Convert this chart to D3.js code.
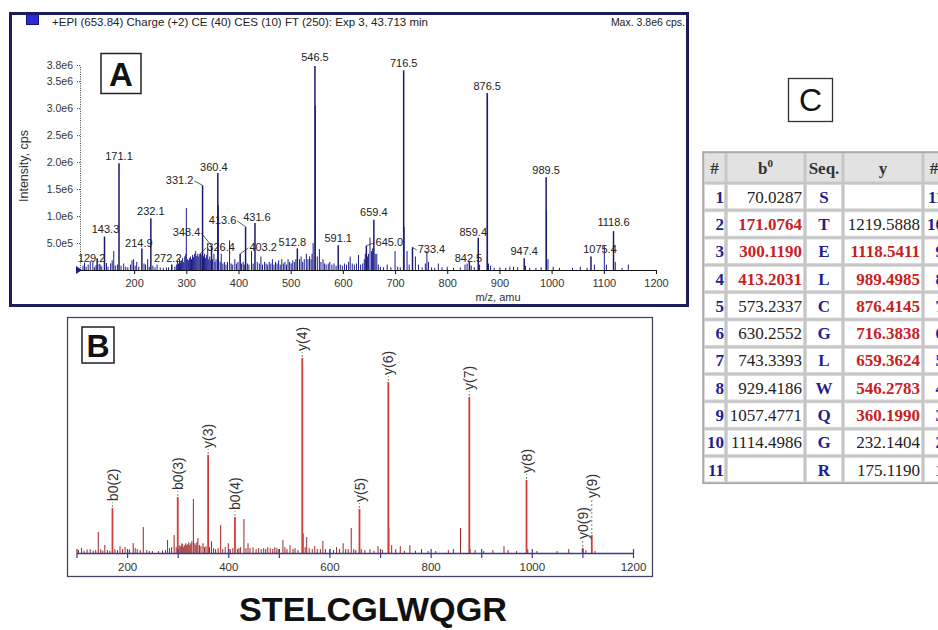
<!DOCTYPE html>
<html>
<head>
<meta charset="utf-8">
<script src="https://cdn.jsdelivr.net/npm/d3@7"></script>
<style>
  body { margin: 0; background: #fff; }
  svg { display: block; }
</style>
</head>
<body>
<svg id="fig" width="938" height="630"></svg>
<script>
// ---------- Panel A: MS/MS spectrum (intensity in 1e6 cps) ----------
const peakLabelsA = ["129.2","143.3","171.1","214.9","232.1","272.2","326.4","331.2","348.4","360.4",
  "403.2","413.6","431.6","512.8","546.5","591.1","645.0","659.4","716.5","733.4",
  "842.5","859.4","876.5","947.4","989.5","1075.4","1118.6"];
const peakIntA = [0.22,0.62,1.98,0.40,0.96,0.10,0.30,1.57,0.45,1.80,
  0.30,0.80,0.87,0.40,3.78,0.46,0.45,0.93,3.70,0.42,
  0.15,0.60,3.28,0.22,1.72,0.25,0.72];
// unlabelled sticks: [m/z, intensity 1e6 cps]
const minorPeaksA = [
  [102,0.08],[105,0.14],[108,0.06],[112,0.10],[116,0.16],[121,0.15],[124,0.05],[127,0.09],[133,0.11],[135,0.10],
  [138,0.07],[147,0.13],[150,0.06],[155,0.12],[158,0.18],[161,0.35],[164,0.08],[168,0.10],[175,0.08],[180,0.12],
  [184,0.06],[188,0.05],[193,0.10],[196,0.18],[199,0.20],[202,0.08],[205,0.15],[209,0.06],[219,0.12],[222,0.10],
  [226,0.20],[229,0.06],[236,0.08],[240,0.05],[244,0.10],[250,0.05],[256,0.04],[262,0.05],[266,0.05],[278,0.06],
  [281,0.10],[283,0.15],[285,0.12],[287,0.20],[289,0.14],[291,0.18],[293,0.22],[295,0.15],[297,0.25],[299,0.30],
  [300.1,1.15],[302,0.20],[304,0.18],[306,0.22],[308,0.25],[310,0.20],[312,0.28],[314,0.24],[316,0.30],[318,0.35],
  [320,0.26],[322,0.30],[324,0.25],[328,0.30],[330,0.28],[333,0.25],[335,0.30],[337,0.22],[339,0.28],[341,0.50],
  [343,0.20],[345,0.25],[347,0.18],[350,0.20],[353,0.30],[355,0.15],[357,0.20],[361.3,1.2],[362,0.18],[365,0.15],
  [367,0.30],[370,0.12],[373,0.15],[376,0.10],[379,0.15],[383,0.55],[386,0.12],[389,0.10],[393,0.20],[396,0.12],
  [399,0.15],[406,0.12],[409,0.15],[411,0.10],[417,0.12],[420,0.10],[425,0.35],[428,0.12],[436,0.15],[440,0.12],
  [443,0.25],[446,0.10],[450,0.15],[453,0.12],[456,0.10],[459,0.15],[462,0.12],[465,0.20],[468,0.10],[471,0.15],
  [474,0.12],[477,0.18],[480,0.10],[483,0.20],[486,0.12],[489,0.15],[492,0.10],[495,0.20],[498,0.15],[501,0.12],
  [504,0.18],[507,0.15],[510,0.20],[517,0.20],[520,0.25],[523,0.15],[526,0.20],[530,0.30],[533,0.20],[536,0.25],
  [539,0.20],[541,0.30],[543,0.50],[547.3,3.05],[551,0.25],[555,0.39],[558,0.15],[562,0.20],[565,0.12],[568,0.10],
  [572,0.12],[575,0.15],[579,0.10],[583,0.12],[587,0.08],[595,0.10],[599,0.08],[603,0.12],[607,0.10],[611,0.15],
  [614,0.25],[618,0.12],[622,0.10],[626,0.12],[630,0.28],[634,0.10],[638,0.12],[641,0.20],[643,0.30],[647,0.25],
  [649,0.30],[652,0.60],[655,0.35],[657,0.40],[662,0.30],[665,0.30],[668,0.10],[672,0.06],[678,0.05],[685,0.10],
  [692,0.05],[700,0.35],[705,0.06],[710,0.05],[717.3,0.80],[723,0.35],[727,0.10],[739,0.25],[745,0.10],[752,0.05],
  [758,0.12],[761,0.35],[764,0.15],[770,0.05],[776,0.04],[783,0.12],[790,0.05],[800,0.06],[812,0.04],[825,0.05],
  [834,0.10],[838,0.12],[846,0.08],[852,0.05],[862,0.10],[877.3,3.20],[879,0.12],[883,0.08],[890,0.04],[901,0.05],
  [912,0.04],[920,0.06],[927,0.06],[935,0.05],[950,0.08],[958,0.04],[970,0.04],[980,0.05],[990.3,1.10],[993,0.20],
  [1003,0.06],[1015,0.04],[1040,0.04],[1055,0.06],[1068,0.04],[1082,0.10],[1101,0.45],[1105,0.10],[1122,0.15],
  [1135,0.04],[1147,0.10]
];
const yTicksA = [0.5e6,1.0e6,1.5e6,2.0e6,2.5e6,3.0e6,3.5e6,3.8e6];
const xTicksA = [200,300,400,500,600,700,800,900,1000,1100,1200];

// ---------- Panel B: annotated fragment ions (relative intensity %) ----------
const ionNamesB = ["b0(2)","b0(3)","y(3)","b0(4)","y(4)","y(5)","y(6)","y(7)","y(8)","y0(9)","y(9)"];
const ionMzB = [171.08,300.12,360.20,413.20,546.28,659.36,716.38,876.41,989.50,1100.53,1118.54];
const ionIntB = [23.0,28.7,50.3,18.5,100,22.6,87.7,80.0,37.4,2.6,9.2];
const minorPeaksB = [
  [104,1.5],[110,2.6],[115,1.2],[121,1.8],[127,2.0],[133,1.2],[138,1.5],[143,10.8],[148,2.0],[152,1.2],
  [156,4.1],[161,1.5],[166,1.2],[176,2.0],[181,1.5],[186,3.5],[191,2.0],[196,3.0],[201,1.2],[205,1.8],
  [212,5.1],[216,2.5],[220,2.0],[226,1.5],[232,13.3],[239,1.5],[244,1.0],[250,1.0],[262,1.0],[270,1.2],
  [276,1.5],[280,6.7],[284,2.5],[288,3.0],[293,9.2],[297,3.0],[303,4.0],[306,3.5],[308,5.0],[310,4.5],
  [312,3.0],[314,4.0],[316,5.0],[318,4.0],[320,4.5],[322,5.5],[324,4.0],[326,5.0],[328,6.0],[331,27.7],
  [334,5.0],[336,4.0],[338,5.5],[340,7.7],[343,4.0],[346,3.5],[350,5.0],[353,3.0],[356,3.5],[363,3.0],
  [367,6.0],[371,2.5],[375,2.0],[380,2.5],[385,14.4],[389,2.0],[394,3.0],[400,5.0],[404,2.0],[409,2.5],
  [418,2.0],[421,2.5],[424,3.0],[431,17.4],[435,2.5],[439,5.0],[443,2.5],[449,3.0],[455,2.0],[460,2.5],
  [465,2.0],[470,2.5],[474,2.0],[478,3.0],[483,2.5],[488,2.0],[492,3.0],[496,2.5],[500,2.0],[508,6.7],
  [512,3.0],[516,2.0],[522,4.0],[528,2.0],[532,2.5],[538,1.5],[548,10.0],[552,3.0],[555,8.2],[560,2.5],
  [566,2.0],[571,3.5],[576,2.0],[582,2.0],[587,6.2],[592,2.0],[601,2.0],[608,1.5],[614,3.0],[620,2.0],
  [627,5.0],[632,2.0],[637,2.0],[643,12.8],[648,2.0],[652,1.5],[663,2.0],[670,1.5],[680,2.0],[688,1.2],
  [696,3.5],[705,1.5],[717.4,12.8],[723,4.0],[731,2.0],[740,3.5],[748,1.2],[759,4.0],[770,1.2],[782,2.0],
  [795,1.0],[810,1.0],[835,1.5],[845,2.0],[859,12.8],[878,2.0],[888,1.5],[905,1.0],[923,1.5],[945,3.5],
  [953,1.5],[970,1.0],[992,2.0],[1010,1.0],[1050,1.0],[1073,2.0],[1107,1.5],[1125,1.0]
];
const xTicksB = [100,200,300,400,500,600,700,800,900,1000,1100,1200];

// ---------- Panel C: fragment table ----------
const tblRowNo = [1,2,3,4,5,6,7,8,9,10,11];
const tblB0 = ["70.0287","171.0764","300.1190","413.2031","573.2337","630.2552","743.3393","929.4186","1057.4771","1114.4986",""];
const tblSeq = ["S","T","E","L","C","G","L","W","Q","G","R"];
const tblY = ["","1219.5888","1118.5411","989.4985","876.4145","716.3838","659.3624","546.2783","360.1990","232.1404","175.1190"];
const tblRevNo = [11,10,9,8,7,6,5,4,3,2,1];
const tblB0Hit = [false,true,true,true,false,false,false,false,false,false,false];
const tblYHit = [false,false,true,true,true,true,true,true,true,false,false];
const tblHeader = ["#","b","Seq.","y","#"];

const peptide = "STELCGLWQGR";

// ---------------------------------------------------------------------
const sans = "'Liberation Sans', Arial, Helvetica, sans-serif";
const serif = "'Liberation Serif', 'Times New Roman', Times, serif";
const svg = d3.select("#fig");
svg.append("rect").attr("width", 938).attr("height", 630).attr("fill", "#fff");

// ===== Panel A =====
const gA = svg.append("g");
gA.append("rect").attr("x", 10.5).attr("y", 13.5).attr("width", 677).attr("height", 292)
  .attr("fill", "#fff").attr("stroke", "#1d1d5c").attr("stroke-width", 3);
gA.append("rect").attr("x", 26.5).attr("y", 14.5).attr("width", 12).attr("height", 10)
  .attr("fill", "#2b2bd6").attr("stroke", "#16167a").attr("stroke-width", 1);
gA.append("text").attr("x", 52).attr("y", 26).attr("font-family", sans).attr("font-size", 11)
  .attr("textLength", 376).attr("lengthAdjust", "spacingAndGlyphs")
  .attr("fill", "#222").text("+EPI (653.84) Charge (+2) CE (40) CES (10) FT (250): Exp 3, 43.713 min");
gA.append("text").attr("x", 685).attr("y", 26).attr("text-anchor", "end").attr("font-family", sans)
  .attr("font-size", 10.5).attr("fill", "#222").text("Max. 3.8e6 cps.");

const xA = d3.scaleLinear().domain([95, 1200]).range([79.3, 656]);
const yA = d3.scaleLinear().domain([0, 3.8e6]).range([270, 65]);

// y axis (dotted)
const axYA = gA.append("g").attr("transform", "translate(80,0)")
  .call(d3.axisLeft(yA).tickValues(yTicksA).tickSize(4).tickSizeOuter(0).tickPadding(3)
    .tickFormat(d => d.toExponential(1).replace("e+", "e")));
axYA.select(".domain").attr("stroke", "#444").attr("stroke-dasharray", "1,1.3");
axYA.selectAll(".tick line").attr("stroke", "#444").attr("stroke-dasharray", "1,1");
axYA.selectAll("text").attr("font-family", sans).attr("font-size", 10.5).attr("fill", "#333");

// x axis
const axXA = gA.append("g").attr("transform", "translate(0,270)")
  .call(d3.axisBottom(xA).tickValues(xTicksA).tickSize(4).tickSizeOuter(0).tickPadding(5)
    .tickFormat(d3.format("d")));
axXA.select(".domain").attr("stroke", "#111");
axXA.selectAll(".tick line").attr("stroke", "#111");
axXA.selectAll("text").attr("font-family", sans).attr("font-size", 11).attr("fill", "#333");

gA.append("path").attr("d", "M76,266 L76,274 L82,270 Z").attr("fill", "#1a1a8a");

gA.append("text").attr("transform", "translate(28,166) rotate(-90)").attr("text-anchor", "middle")
  .attr("font-family", sans).attr("font-size", 12.5).attr("fill", "#333").text("Intensity, cps");
gA.append("text").attr("x", 498).attr("y", 301).attr("text-anchor", "middle")
  .attr("font-family", sans).attr("font-size", 11).attr("fill", "#333").text("m/z, amu");

// sticks
gA.append("g").selectAll("line").data(minorPeaksA).join("line")
  .attr("x1", d => xA(d[0])).attr("x2", d => xA(d[0]))
  .attr("y1", yA(0)).attr("y2", d => yA(d[1] * 1e6))
  .attr("stroke", "#1c1c8e").attr("stroke-width", 1);

const peaksA = peakLabelsA.map((l, i) => ({ label: l, mz: +l, v: peakIntA[i] * 1e6 }));
gA.append("g").selectAll("line").data(peaksA).join("line")
  .attr("x1", d => xA(d.mz)).attr("x2", d => xA(d.mz))
  .attr("y1", yA(0)).attr("y2", d => yA(d.v))
  .attr("stroke", "#1a1a6e").attr("stroke-width", 1.5);

// label placement tweaks for crowded peaks: [dx, dy, leader side]
const labelNudgeA = {
  "129.2": [-5.5, 4], "143.3": [1, -3.5], "214.9": [-3, -1.5], "272.2": [-4, -2.6],
  "326.4": [21, -3, "L"], "331.2": [-23, -1.3, "R"], "348.4": [-25, -9.7, "R"], "360.4": [-4, -2],
  "403.2": [23, -2.8, "L"], "413.6": [-23, -2.8, "R"], "431.6": [2, -2], "512.8": [-5, -2],
  "546.5": [0, -5], "645.0": [23, 0, "L"], "659.4": [0, -4], "733.4": [19, 5.7, "L"],
  "842.5": [-1, 0], "859.4": [-5, -2], "1075.4": [9, -3.5], "1118.6": [0, -5]
};
const labA = gA.append("g");
peaksA.forEach(p => {
  const n = labelNudgeA[p.label] || [0, -3];
  const px = xA(p.mz), py = yA(p.v);
  const t = labA.append("text").attr("x", px + n[0]).attr("y", py + n[1])
    .attr("text-anchor", "middle").attr("font-family", sans).attr("font-size", 11)
    .attr("fill", "#222").text(p.label);
  if (n[2]) {
    const hw = t.node().getComputedTextLength() / 2;
    const lx = n[2] === "L" ? px + n[0] - hw - 1 : px + n[0] + hw + 1;
    labA.append("line").attr("x1", lx).attr("y1", py + n[1] - 3).attr("x2", px).attr("y2", py)
      .attr("stroke", "#333").attr("stroke-width", 0.8);
  }
});

// panel tag A
gA.append("rect").attr("x", 101).attr("y", 53.5).attr("width", 40).attr("height", 40)
  .attr("fill", "#fff").attr("stroke", "#222").attr("stroke-width", 1.5);
gA.append("text").attr("x", 121).attr("y", 86).attr("text-anchor", "middle")
  .attr("font-family", sans).attr("font-weight", "bold").attr("font-size", 33).attr("fill", "#111").text("A");

// ===== Panel B =====
const gB = svg.append("g");
gB.append("rect").attr("x", 67.5).attr("y", 317.5).attr("width", 585).attr("height", 259)
  .attr("fill", "#fff").attr("stroke", "#45456a").attr("stroke-width", 1.3);

const xB = d3.scaleLinear().domain([100, 1200]).range([76.5, 633]);
const yB = d3.scaleLinear().domain([0, 100]).range([553, 358]);

gB.append("g").selectAll("line").data(minorPeaksB).join("line")
  .attr("x1", d => xB(d[0])).attr("x2", d => xB(d[0]))
  .attr("y1", yB(0)).attr("y2", d => yB(d[1]))
  .attr("stroke", "#9c2525").attr("stroke-width", 1);

const ionsB = ionNamesB.map((n, i) => ({ name: n, mz: ionMzB[i], v: ionIntB[i] }));
gB.append("g").selectAll("line").data(ionsB).join("line")
  .attr("x1", d => xB(d.mz)).attr("x2", d => xB(d.mz))
  .attr("y1", yB(0)).attr("y2", d => yB(d.v))
  .attr("stroke", "#d23c3c").attr("stroke-width", 1.8);

const axXB = gB.append("g").attr("transform", "translate(0,553)")
  .call(d3.axisBottom(xB).tickValues(xTicksB).tickSize(5).tickSizeOuter(0).tickPadding(5)
    .tickFormat(d => d % 200 === 0 ? d : ""));
axXB.select(".domain").attr("stroke", "#3b3b8c").attr("stroke-width", 1.3);
axXB.selectAll(".tick line").attr("y1", -4).attr("stroke", "#3b3b8c").attr("stroke-width", 1.2);
axXB.selectAll("text").attr("font-family", sans).attr("font-size", 11.5).attr("fill", "#333");

// rotated ion annotations with dashed leaders
const gapB = { "y(9)": 37, "y0(9)": 9 };
const annB = gB.append("g");
ionsB.forEach(d => {
  const px = xB(d.mz), py = yB(d.v);
  const gap = gapB[d.name] || 7;
  annB.append("line").attr("x1", px).attr("x2", px).attr("y1", py - 1).attr("y2", py - gap + 1)
    .attr("stroke", "#6f8f6f").attr("stroke-width", 1).attr("stroke-dasharray", "2,2");
  annB.append("text").attr("transform", `translate(${px},${py - gap}) rotate(-90)`)
    .attr("dy", "0.36em").attr("font-family", sans).attr("font-size", 14).attr("fill", "#333")
    .text(d.name);
});

gB.append("rect").attr("x", 82).attr("y", 327).attr("width", 32).attr("height", 36)
  .attr("fill", "#fff").attr("stroke", "#222").attr("stroke-width", 1.5);
gB.append("text").attr("x", 98).attr("y", 357).attr("text-anchor", "middle")
  .attr("font-family", sans).attr("font-weight", "bold").attr("font-size", 32).attr("fill", "#111").text("B");

// peptide sequence
svg.append("text").attr("x", 373).attr("y", 621).attr("text-anchor", "middle")
  .attr("font-family", sans).attr("font-weight", "bold").attr("font-size", 33).attr("fill", "#111")
  .attr("textLength", 268).attr("lengthAdjust", "spacingAndGlyphs")
  .text(peptide);

// ===== Panel C: table =====
const gC = svg.append("g");
gC.append("rect").attr("x", 788.5).attr("y", 78.5).attr("width", 44).attr("height", 43)
  .attr("fill", "#fff").attr("stroke", "#333").attr("stroke-width", 1.3);
gC.append("text").attr("x", 810.5).attr("y", 111).attr("text-anchor", "middle")
  .attr("font-family", sans).attr("font-size", 32).attr("fill", "#111").text("C");

const colX = [703, 726, 805, 843, 923, 947];
const top0 = 152, headH = 31, rowH = 27.3;
const nRows = tblRowNo.length;
const tblBottom = top0 + headH + nRows * rowH;
gC.append("rect").attr("x", colX[0]).attr("y", top0).attr("width", colX[5] - colX[0])
  .attr("height", tblBottom - top0).attr("fill", "#c6c6c6").attr("stroke", "#a3a3a3").attr("stroke-width", 1.5);

const cells = [];
for (let c = 0; c < 5; c++) {
  cells.push({ x0: colX[c], x1: colX[c + 1], y0: top0, y1: top0 + headH, head: true });
  for (let r = 0; r < nRows; r++) {
    const y0 = top0 + headH + r * rowH;
    cells.push({ x0: colX[c], x1: colX[c + 1], y0: y0, y1: y0 + rowH, head: false });
  }
}
gC.append("g").selectAll("rect").data(cells).join("rect")
  .attr("x", d => d.x0 + 1.5).attr("y", d => d.y0 + 1.5)
  .attr("width", d => d.x1 - d.x0 - 3).attr("height", d => d.y1 - d.y0 - 3)
  .attr("fill", d => d.head ? "#e2e2e2" : "#fff").attr("stroke", "#d6d6d6").attr("stroke-width", 0.8);

// header
const headBase = top0 + headH / 2 + 6;
tblHeader.forEach((h, c) => {
  const t = gC.append("text").attr("x", (colX[c] + colX[c + 1]) / 2 + (c === 4 ? -1 : 0)).attr("y", headBase)
    .attr("text-anchor", "middle").attr("font-family", serif).attr("font-weight", "bold")
    .attr("font-size", 17).attr("fill", "#333").text(h);
  if (c === 1) t.append("tspan").attr("font-size", 11).attr("dy", -7).text("0");
});

const navy = "#1f1f8f", red = "#c8211f", ink = "#222";
tblRowNo.forEach((n, r) => {
  const yb = top0 + headH + r * rowH + rowH / 2 + 6;
  const txt = (x, anchor, s, bold, fill) => gC.append("text").attr("x", x).attr("y", yb)
    .attr("text-anchor", anchor).attr("font-family", serif).attr("font-size", 17)
    .attr("font-weight", bold ? "bold" : "normal").attr("fill", fill).text(s);
  txt(colX[1] - 2, "end", n, true, navy);
  txt(colX[2] - 3, "end", tblB0[r], tblB0Hit[r], tblB0Hit[r] ? red : ink);
  txt((colX[2] + colX[3]) / 2, "middle", tblSeq[r], true, navy);
  txt(colX[4] - 3, "end", tblY[r], tblYHit[r], tblYHit[r] ? red : ink);
  txt(colX[5] - 3, "end", tblRevNo[r], true, navy);
});
</script>
</body>
</html>
